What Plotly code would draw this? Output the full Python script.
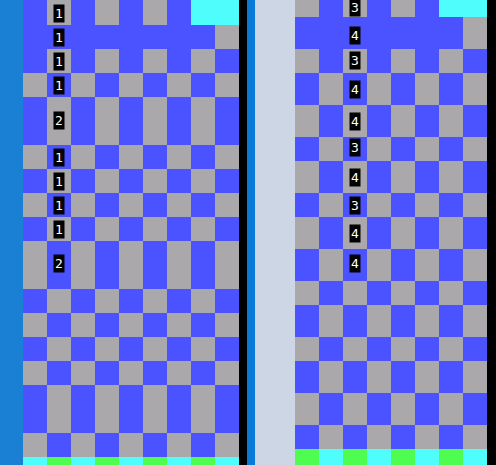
import plotly.graph_objects as go

# cell codes: B blue, G gray, C cyan, N green
left_cols = [23, 47, 71, 95, 119, 143, 167, 191, 215, 239]
left_rows = [0, 25, 49, 73, 97, 145, 169, 193, 217, 241, 289, 313, 337, 361, 385, 433, 457, 465]
left_grid = [
    "BGBGBGBCC",
    "BBBBBBBBG",
    "BGBGBGBGB",
    "GBGBGBGBG",
    "BGBGBGBGB",
    "GBGBGBGBG",
    "BGBGBGBGB",
    "GBGBGBGBG",
    "BGBGBGBGB",
    "GBGBGBGBG",
    "BGBGBGBGB",
    "GBGBGBGBG",
    "BGBGBGBGB",
    "GBGBGBGBG",
    "BGBGBGBGB",
    "GBGBGBGBG",
    "CNCNCNCNC",
]
left_labels = ["1", "1", "1", "1", "2", "1", "1", "1", "1", "2"]
left_label_y = [13, 37, 61, 85, 120, 157, 181, 205, 229, 263]

right_cols = [295, 319, 343, 367, 391, 415, 439, 463, 487]
right_rows = [0, 17, 49, 73, 105, 137, 161, 193, 217, 249, 281, 305, 337, 361, 393, 425, 449, 465]
right_grid = [
    "GBGBGBCC",
    "BBBBBBBG",
    "GBGBGBGB",
    "BGBGBGBG",
    "GBGBGBGB",
    "BGBGBGBG",
    "GBGBGBGB",
    "BGBGBGBG",
    "GBGBGBGB",
    "BGBGBGBG",
    "GBGBGBGB",
    "BGBGBGBG",
    "GBGBGBGB",
    "BGBGBGBG",
    "GBGBGBGB",
    "BGBGBGBG",
    "NCNCNCNC",
]
right_labels = ["3", "4", "3", "4", "4", "3", "4", "3", "4", "4"]
right_label_y = [7, 35, 60, 89, 121, 147, 177, 205, 233, 263]

# side strips: (x0, x1, colour)
strips = [(0, 23, "#1a80d4"), (239, 247, "#000000"), (247, 255, "#0a7ad8"),
          (255, 295, "#ccd6e4"), (487, 496, "#000000")]

code = {"B": 0, "G": 1, "C": 2, "N": 3}
blue, gray, cyan, green = "#4b52ff", "#aaa8ab", "#50fdfd", "#4ffc50"
scale = [[0, blue], [0.25, blue], [0.25, gray], [0.5, gray],
         [0.5, cyan], [0.75, cyan], [0.75, green], [1, green]]

fig = go.Figure()

for x0, x1, col in strips:
    fig.add_trace(go.Heatmap(x=[x0, x1], y=[0, 465], z=[[0]],
                             colorscale=[[0, col], [1, col]], showscale=False,
                             hoverinfo="skip"))

for cols, rows, grid in [(left_cols, left_rows, left_grid), (right_cols, right_rows, right_grid)]:
    z = [[code[c] for c in row] for row in grid]
    fig.add_trace(go.Heatmap(x=cols, y=rows, z=z, zmin=0, zmax=3,
                             colorscale=scale, showscale=False, hoverinfo="skip"))

for txt, y in zip(left_labels, left_label_y):
    fig.add_annotation(x=(left_cols[1] + left_cols[2]) / 2, y=y, text=txt, showarrow=False,
                       bgcolor="black", borderpad=1,
                       font=dict(family="DejaVu Sans Mono", size=13, color="white"))
for txt, y in zip(right_labels, right_label_y):
    fig.add_annotation(x=(right_cols[2] + right_cols[3]) / 2, y=y, text=txt, showarrow=False,
                       bgcolor="black", borderpad=1,
                       font=dict(family="DejaVu Sans Mono", size=13, color="white"))

fig.update_layout(width=496, height=465, margin=dict(l=0, r=0, t=0, b=0),
                  paper_bgcolor="white", plot_bgcolor="white",
                  xaxis=dict(range=[0, 496], visible=False, fixedrange=True),
                  yaxis=dict(range=[465, 0], visible=False, fixedrange=True))

# drop the default page margin so the figure fills the window
fig.write_html("out.html", config={"displayModeBar": False},
               post_script="document.body.style.margin='0';document.body.style.overflow='hidden';")
